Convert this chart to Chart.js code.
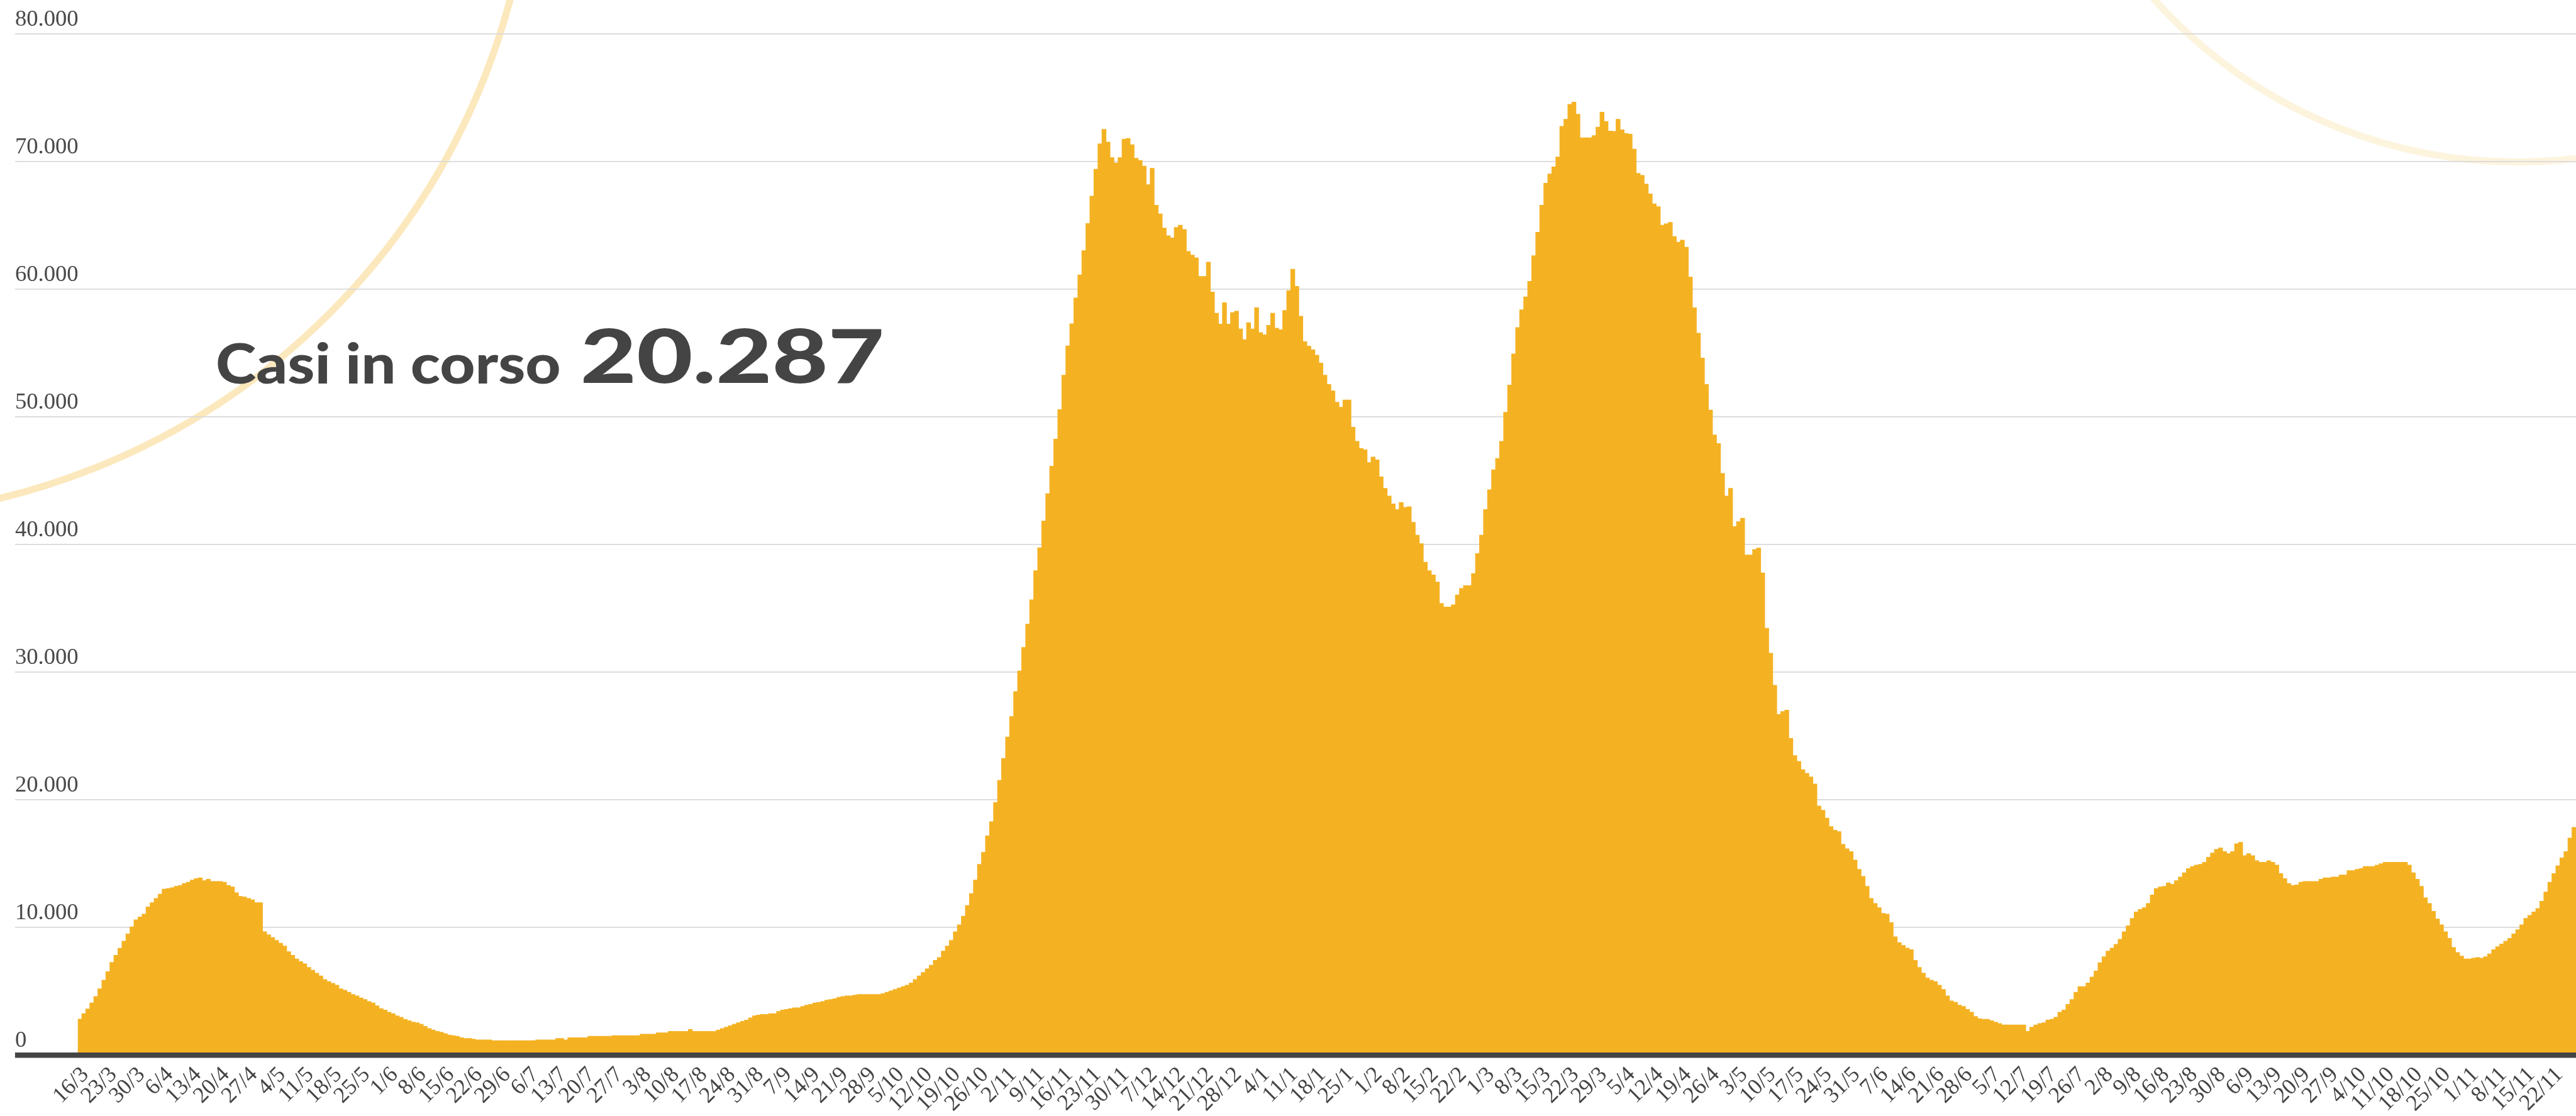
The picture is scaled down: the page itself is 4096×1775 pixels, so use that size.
<!DOCTYPE html>
<html lang="it">
<head>
<meta charset="utf-8">
<title>Casi in corso</title>
<script src="https://cdn.jsdelivr.net/npm/chart.js@4.4.1/dist/chart.umd.min.js"></script>
<style>
  html, body { margin: 0; padding: 0; background: #fff; }
  #wrap { width: 4096px; height: 1775px; position: relative; }
</style>
</head>
<body>
<div id="wrap"><canvas id="chart"></canvas></div>
<script>
// scala rispetto all'originale 4802x2081
const S = 4096 / 4802;

const TITLE_TEXT = 'Casi in corso';
const TITLE_VALUE = '20.287';

// valori giornalieri dei casi in corso, un array per mese
const mar20 = [2800, 3230, 3600, 4070, 4570, 5180, 5850, 6520, 7240, 7800, 8350, 8910, 9470, 10030, 10580, 10800];
const apr20 = [11030, 11590, 11920, 12250, 12590, 12980, 13030, 13090, 13200, 13260, 13420, 13530, 13700, 13810, 13870,
  13650, 13760, 13590, 13590, 13590, 13530, 13260, 13150, 12700, 12420, 12370, 12250, 12140, 11920, 11920];
const may20 = [9640, 9410, 9190, 8970, 8750, 8520, 8080, 7800, 7520, 7300, 7130, 6850, 6630, 6400, 6180, 5900, 5740,
  5600, 5460, 5180, 5070, 4900, 4730, 4620, 4460, 4340, 4180, 4070, 3850, 3620, 3510];
const jun20 = [3340, 3230, 3060, 2950, 2790, 2670, 2560, 2510, 2400, 2230, 2060, 1950, 1840, 1780, 1670, 1560, 1500,
  1450, 1340, 1280, 1280, 1230, 1170, 1170, 1170, 1170, 1110, 1110, 1110, 1110];
const jul20 = [1110, 1110, 1110, 1110, 1110, 1110, 1110, 1170, 1170, 1170, 1170, 1170, 1280, 1280, 1170, 1340, 1340,
  1340, 1340, 1340, 1450, 1450, 1450, 1450, 1450, 1450, 1500, 1500, 1500, 1500, 1500];
const aug20 = [1500, 1500, 1620, 1620, 1620, 1620, 1730, 1730, 1730, 1840, 1840, 1840, 1840, 1840, 2000, 1840, 1840,
  1840, 1840, 1840, 1840, 1950, 2060, 2170, 2280, 2400, 2510, 2620, 2730, 2900, 3060];
const sep20 = [3120, 3170, 3170, 3230, 3230, 3400, 3510, 3560, 3620, 3680, 3680, 3790, 3900, 3950, 4070, 4120, 4180,
  4290, 4340, 4400, 4510, 4570, 4620, 4620, 4680, 4730, 4730, 4730, 4730, 4730];
const oct20 = [4730, 4790, 4900, 5010, 5120, 5240, 5350, 5460, 5630, 5900, 6180, 6460, 6740, 7020, 7410, 7630, 8130,
  8520, 8970, 9640, 10190, 10860, 11700, 12640, 13700, 14930, 15870, 17160, 18270, 19770, 21500];
const nov20 = [23230, 24900, 26510, 28460, 30080, 31920, 33750, 35650, 37930, 39730, 41820, 43970, 46120, 48240,
  50550, 53250, 55540, 57280, 59300, 61110, 63010, 65130, 67280, 69380, 71380, 72510, 71520, 70290, 69880, 70290];
const dec20 = [71740, 71800, 71300, 70240, 70070, 69630, 68180, 69460, 66560, 65890, 64780, 64170, 64000, 64830,
  65000, 64670, 62940, 62660, 62440, 60990, 60990, 62100, 59770, 58100, 57260, 58930, 57260, 58150, 58260, 56870, 56030];
const jan21 = [57370, 56870, 58540, 56590, 56420, 57150, 58100, 56930, 56810, 58320, 59880, 61550, 60210, 57870,
  55870, 55530, 55250, 54810, 54200, 53250, 52530, 52020, 51130, 50740, 51300, 51300, 49180, 48070, 47510, 47400, 46400];
const feb21 = [46840, 46620, 45280, 44390, 43780, 43170, 42720, 43280, 42890, 42950, 41720, 40720, 40050, 38600,
  37930, 37600, 37040, 35370, 35090, 35090, 35260, 36040, 36540, 36760, 36760, 37710, 39270, 40720];
const mar21 = [42720, 44280, 45840, 46730, 48070, 50350, 52470, 54920, 56980, 58370, 59380, 60600, 62610, 64440,
  66560, 68290, 69010, 69570, 70350, 72740, 73300, 74470, 74640, 73690, 71850, 71850, 71850, 72020, 72690, 73860, 73130];
const apr21 = [72380, 72350, 73300, 72470, 72190, 72130, 70960, 69070, 68900, 68230, 67450, 66670, 66450, 65000,
  65110, 65220, 64110, 63670, 63830, 63280, 60940, 58540, 56540, 54590, 52530, 50520, 48570, 47900, 45560, 43780];
const may21 = [44390, 41390, 41780, 42050, 39160, 39160, 39600, 39710, 37760, 33420, 31470, 28960, 26680, 26900,
  27010, 24790, 23450, 23000, 22340, 22060, 21780, 21220, 19500, 19160, 18550, 17880, 17600, 17490, 16490, 16150, 15930];
const jun21 = [15260, 14540, 13980, 13200, 12250, 11860, 11530, 11080, 11030, 10360, 9250, 8800, 8580, 8360, 8240,
  7410, 6850, 6410, 6020, 5850, 5740, 5460, 5120, 4620, 4230, 4120, 3900, 3790, 3560, 3340];
const jul21 = [3010, 2840, 2790, 2790, 2670, 2560, 2450, 2340, 2340, 2340, 2340, 2340, 2340, 1840, 2170, 2340, 2450,
  2510, 2730, 2790, 2950, 3340, 3510, 3950, 4340, 4900, 5350, 5350, 5630, 6100, 6570];
const aug21 = [7220, 7690, 8130, 8360, 8660, 9050, 9640, 10110, 10690, 11200, 11390, 11530, 11860, 12530, 13030,
  13150, 13200, 13480, 13370, 13650, 13930, 14260, 14590, 14760, 14870, 14930, 15090, 15480, 15820, 16100, 16210];
const sep21 = [15930, 15760, 15930, 16540, 16650, 15600, 15760, 15600, 15210, 15090, 15090, 15210, 15090, 14870,
  14200, 13810, 13420, 13260, 13310, 13530, 13590, 13590, 13590, 13590, 13760, 13870, 13870, 13930, 13930, 14090];
const oct21 = [14090, 14430, 14430, 14540, 14590, 14760, 14760, 14760, 14870, 14980, 15090, 15090, 15090, 15090,
  15090, 15090, 14870, 14260, 13760, 13200, 12310, 11860, 11250, 10640, 10190, 9640, 9130, 8410, 8020, 7740, 7520];
const nov21 = [7520, 7580, 7630, 7580, 7690, 7910, 8240, 8470, 8690, 8910, 9130, 9470, 9800, 10190, 10690, 10920,
  11200, 11470, 12030, 12760, 13530, 14200, 14820, 15430, 15930, 16990, 17820];

// mese e primo giorno di ogni blocco
const monthBlocks = [
  [3, 16, mar20], [4, 1, apr20], [5, 1, may20], [6, 1, jun20], [7, 1, jul20], [8, 1, aug20], [9, 1, sep20],
  [10, 1, oct20], [11, 1, nov20], [12, 1, dec20], [1, 1, jan21], [2, 1, feb21], [3, 1, mar21], [4, 1, apr21],
  [5, 1, may21], [6, 1, jun21], [7, 1, jul21], [8, 1, aug21], [9, 1, sep21], [10, 1, oct21], [11, 1, nov21]
];

const yTicks = [0, 10000, 20000, 30000, 40000, 50000, 60000, 70000, 80000];

const labels = [];
const values = [];
monthBlocks.forEach(([m, first, arr]) => {
  arr.forEach((v, k) => {
    labels.push((first + k) + '/' + m);
    values.push(v);
  });
});

const fmt = (n) => String(n).replace(/\B(?=(\d{3})+(?!\d))/g, '.');

function drawStretched(ctx, text, font, x, y, w) {
  ctx.font = font;
  const m = ctx.measureText(text);
  const inkW = m.actualBoundingBoxLeft + m.actualBoundingBoxRight;
  ctx.save();
  ctx.translate(x, y);
  ctx.scale(w / inkW, 1);
  ctx.fillText(text, m.actualBoundingBoxLeft, 0);
  ctx.restore();
}

// cerchi decorativi di sfondo
const arcsPlugin = {
  id: 'archi',
  beforeDraw(chart) {
    const ctx = chart.ctx;
    ctx.save();
    ctx.lineWidth = 13 * S;
    ctx.strokeStyle = 'rgba(244,178,36,0.3)';
    ctx.beginPath();
    ctx.arc(-304 * S, -333 * S, 1298 * S, 0, Math.PI * 2);
    ctx.stroke();
    ctx.strokeStyle = 'rgba(244,178,36,0.15)';
    ctx.beginPath();
    ctx.arc(4694 * S, -608 * S, 910 * S, 0, Math.PI * 2);
    ctx.stroke();
    ctx.restore();
  }
};

const titlePlugin = {
  id: 'titolo',
  afterDatasetsDraw(chart) {
    const ctx = chart.ctx;
    ctx.save();
    ctx.fillStyle = '#444444';
    ctx.textBaseline = 'alphabetic';
    drawStretched(ctx, TITLE_TEXT, '900 ' + Math.round(103 * S) + 'px Lato', 406 * S, 715 * S, 637 * S);
    drawStretched(ctx, TITLE_VALUE, '900 ' + Math.round(140 * S) + 'px Lato', 1088 * S, 714 * S, 556 * S);
    ctx.restore();
  }
};

const ctx = document.getElementById('chart').getContext('2d');
new Chart(ctx, {
  type: 'bar',
  data: {
    labels: labels,
    datasets: [{
      data: values,
      backgroundColor: '#f4b223',
      borderWidth: 0,
      barPercentage: 1,
      categoryPercentage: 1,
      inflateAmount: 0.5
    }]
  },
  options: {
    responsive: true,
    maintainAspectRatio: false,
    animation: false,
    devicePixelRatio: 1,
    layout: { padding: { left: 28 * S, top: 63 * S, right: 0, bottom: 0 } },
    plugins: { legend: { display: false }, tooltip: { enabled: false } },
    scales: {
      x: {
        grid: { display: false, drawTicks: false },
        border: { display: false },
        ticks: {
          autoSkip: false,
          minRotation: 45,
          maxRotation: 45,
          padding: 11,
          labelOffset: 9,
          color: '#444444',
          font: { family: 'Liberation Serif', size: 42 * S },
          callback: function (val, index) {
            return index % 7 === 0 ? this.getLabelForValue(val) : '';
          }
        },
        afterFit: (scale) => {
          scale.height = 1775 - 1967 * S;
          scale.paddingLeft = 0;
          scale.paddingRight = 0;
        }
      },
      y: {
        min: 0,
        max: 80000,
        afterBuildTicks: (scale) => { scale.ticks = yTicks.map(v => ({ value: v })); },
        border: { display: false },
        grid: {
          color: (c) => c.tick && c.tick.value === 0 ? '#444444' : '#d9d9d9',
          lineWidth: (c) => c.tick && c.tick.value === 0 ? 10 * S : 2 * S,
          drawTicks: true,
          tickLength: 117 * S
        },
        ticks: {
          crossAlign: 'far',
          labelOffset: -26 * S,
          color: '#4a4a4a',
          font: { family: 'Liberation Serif', size: 43 * S },
          callback: (v) => fmt(v)
        },
        afterFit: (scale) => { scale.width = 117 * S; }
      }
    }
  },
  plugins: [arcsPlugin, titlePlugin]
});
</script>
</body>
</html>
